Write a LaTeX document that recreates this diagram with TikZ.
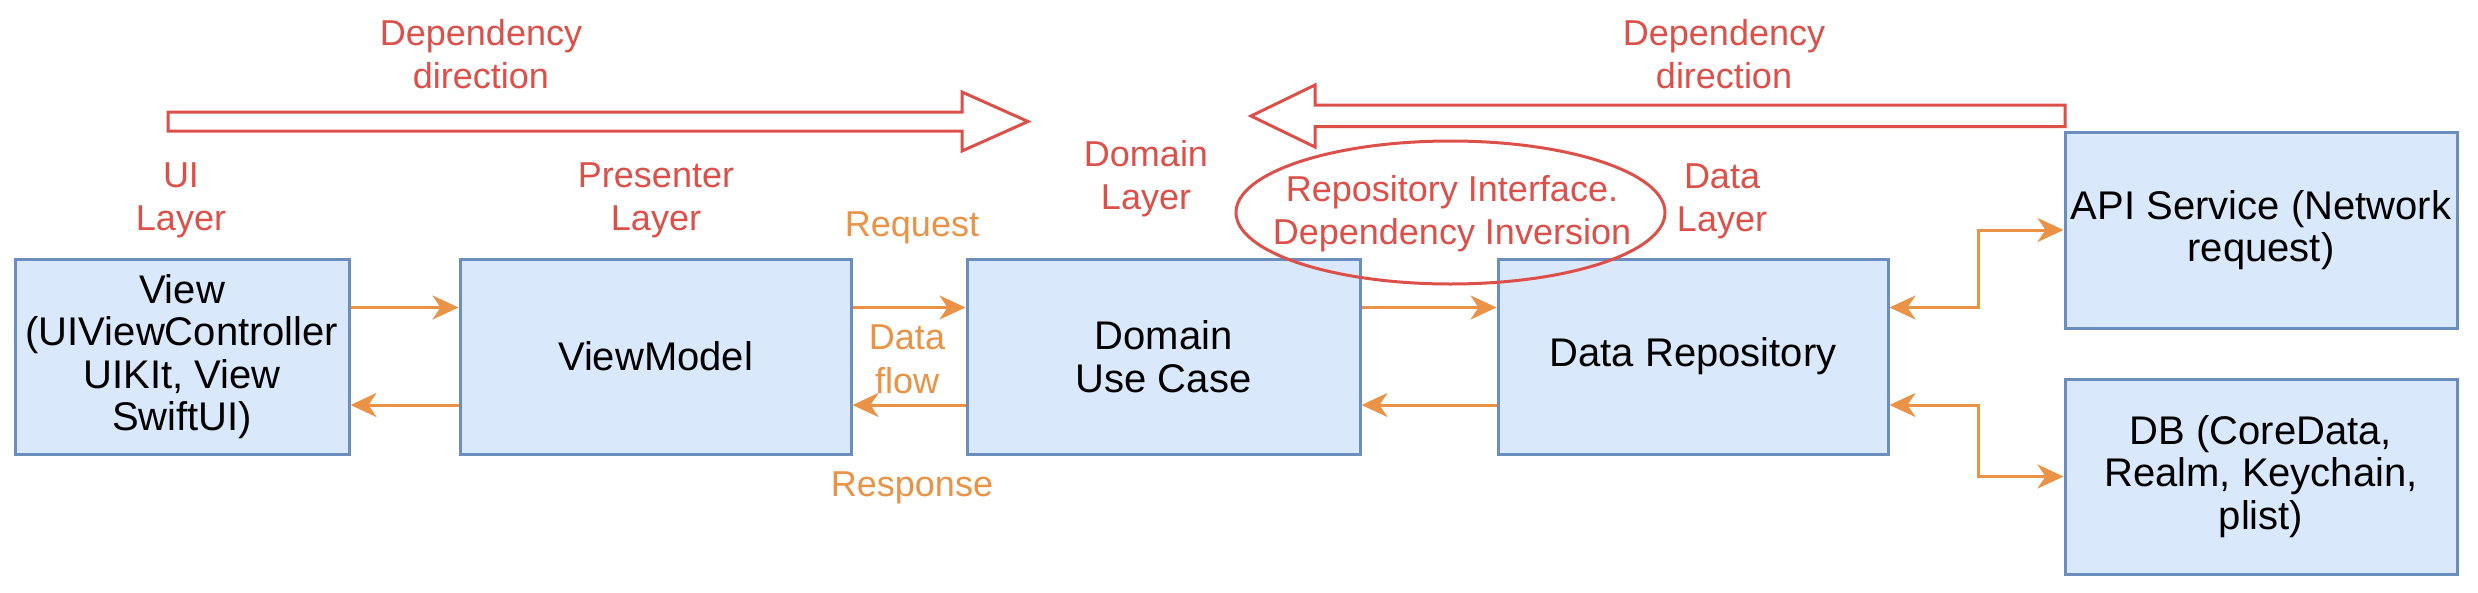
\documentclass[tikz,border=0pt]{standalone}
\usepackage{fontspec}
\setmainfont{Liberation Sans}
\usetikzlibrary{arrows.meta,calc}
\definecolor{boxfill}{HTML}{DAE8FC}
\definecolor{boxline}{HTML}{6C8EBF}
\definecolor{flowc}{HTML}{EA9245}
\definecolor{redc}{HTML}{DC5049}
\begin{document}
\begin{tikzpicture}[x=1pt,y=-1pt,
  every node/.style={align=center, inner sep=0pt},
  blk/.style={draw=boxline, fill=boxfill, line width=3pt, minimum width=#1, text=black,
    font=\fontsize{40}{42.5}\selectfont},
  redtxt/.style={text=redc, font=\fontsize{36}{43}\selectfont},
  orgtxt/.style={text=flowc, font=\fontsize{36}{44}\selectfont},
  tip/.style={Stealth[length=26pt,width=24pt,inset=8pt]},
  flow/.style={draw=flowc, line width=3pt, -{Stealth[length=26pt,width=24pt,inset=8pt]}},
  flow2/.style={draw=flowc, line width=3pt, {Stealth[length=26pt,width=24pt,inset=8pt]}-{Stealth[length=26pt,width=24pt,inset=8pt]}},
  dep/.style={draw=redc, line width=3pt, fill=white, line join=miter}
]
\useasboundingbox (0,0) rectangle (2478,592);

% boxes
\node[blk=334pt, minimum height=195pt] (view) at (182,356.5) {View\\(UIViewController\\UIKIt, View\\SwiftUI)};
\node[blk=391pt, minimum height=195pt] (vm) at (655.5,356.5) {ViewModel};
\node[blk=393pt, minimum height=195pt] (uc) at (1163.5,356.5) {Domain\\Use Case};
\node[blk=390pt, minimum height=195pt] (repo) at (1693,356.5) {Data Repository};
\node[blk=392pt, minimum height=196pt] (api) at (2261,230) {API Service (Network\\request)};
\node[blk=392pt, minimum height=195pt] (db) at (2261,476.5) {DB (CoreData,\\Realm, Keychain,\\plist)};

% flow arrows
\draw[flow] ([yshift=-50pt]view.north east) -- ([yshift=-50pt]vm.north west);
\draw[flow] ([yshift=-147.5pt]vm.north west) -- ([yshift=-147.5pt]view.north east);
\draw[flow] ([yshift=-50pt]vm.north east) -- ([yshift=-50pt]uc.north west);
\draw[flow] ([yshift=-147.5pt]uc.north west) -- ([yshift=-147.5pt]vm.north east);
\draw[flow] ([yshift=-50pt]uc.north east) -- ([yshift=-50pt]repo.north west);
\draw[flow] ([yshift=-147.5pt]repo.north west) -- ([yshift=-147.5pt]uc.north east);
\draw[flow2] ([yshift=-50pt]repo.north east) -- ++(89,0) |- (api.west);
\draw[flow2] ([yshift=-147.5pt]repo.north east) -- ++(89,0) |- (db.west);

% dependency direction arrows
\draw[dep] (168,112) -- (962,112) -- (962,92) -- (1028,121.5) -- (962,151) -- (962,131) -- (168,131) -- cycle;
\draw[dep] (2065,105) -- (1315,105) -- (1315,85) -- (1251,116) -- (1315,147) -- (1315,126.5) -- (2065,126.5) -- cycle;

% labels
\node[redtxt] (dd1) at (481,54) {Dependency\\direction};
\node[redtxt] (dd2) at (1724,54) {Dependency\\direction};
\node[redtxt] (uil) at (181,200) {UI\\Layer};
\node[redtxt] (pl) at (656,200) {Presenter\\Layer};
\node[redtxt] (dl) at (1146,179) {Domain\\Layer};
\node[redtxt] (dal) at (1722,201) {Data\\Layer};
\coordinate (ric) at (1450.5,212.5);
\draw[draw=redc, line width=3pt] (ric) ellipse [x radius=214.5, y radius=71.5];
\node[redtxt] (ri) at (1452,214) {Repository Interface.\\Dependency Inversion};
\node[orgtxt] (req) at (912,228) {Request};
\node[orgtxt] (df) at (907,359) {Data\\flow};
\node[orgtxt] (resp) at (912,488) {Response};
\end{tikzpicture}
\end{document}
